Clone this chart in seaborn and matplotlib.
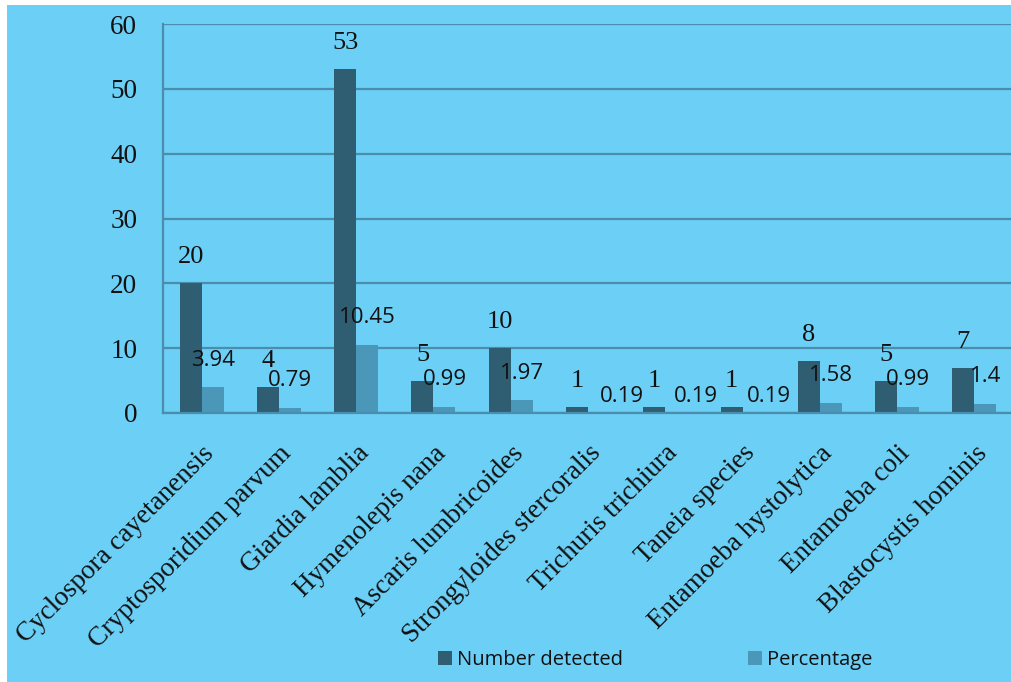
import matplotlib
matplotlib.use("Agg")
import matplotlib.pyplot as plt
import seaborn as sns
import pandas as pd
from matplotlib.patches import Rectangle

parasites = [
    "Cyclospora cayetanensis", "Cryptosporidium parvum", "Giardia lamblia",
    "Hymenolepis nana", "Ascaris lumbricoides", "Strongyloides stercoralis",
    "Trichuris trichiura", "Taneia species", "Entamoeba hystolytica",
    "Entamoeba coli", "Blastocystis hominis",
]
number_detected = [20, 4, 53, 5, 10, 1, 1, 1, 8, 5, 7]
percentage = [3.94, 0.79, 10.45, 0.99, 1.97, 0.19, 0.19, 0.19, 1.58, 0.99, 1.4]
series_names = ["Number detected", "Percentage"]
y_ticks = [0, 10, 20, 30, 40, 50, 60]

BG = "#6BCFF6"
DARK = "#2F5D71"
LIGHT = "#4A97BA"
GRID = "#4B8DAD"

df = pd.DataFrame({
    "parasite": parasites * 2,
    "series": [series_names[0]] * len(parasites) + [series_names[1]] * len(parasites),
    "value": number_detected + percentage,
})

sns.set_style("white")
fig = plt.figure(figsize=(10.11, 6.82), dpi=100, facecolor="white")
fig.patches.append(Rectangle((7 / 1011, 0), 1, 1 - 5 / 682, transform=fig.transFigure,
                             facecolor=BG, edgecolor="none", zorder=-10))
ax = fig.add_axes([163 / 1011, 1 - 413 / 682, 850 / 1011, 389 / 682])
ax.set_facecolor(BG)

sns.barplot(data=df, x="parasite", y="value", hue="series", order=parasites,
            hue_order=series_names, palette=[DARK, LIGHT], width=0.57,
            saturation=1, ax=ax, legend=True, edgecolor="none", linewidth=0)

ax.set_ylim(0, 60)
ax.set_xlim(-0.5, len(parasites) - 0.5)
ax.set_yticks(y_ticks)
ax.yaxis.grid(True, color=GRID, linewidth=1.6)
ax.set_axisbelow(True)
for side in ["top", "right"]:
    ax.spines[side].set_visible(False)
for side in ["left", "bottom"]:
    ax.spines[side].set_color(GRID)
    ax.spines[side].set_linewidth(1.6)
ax.tick_params(axis="both", length=0)
ax.tick_params(axis="y", pad=18.5)
ax.set_xlabel("")
ax.set_ylabel("")

serif = "Liberation Serif"
sans = "Open Sans"
for lbl in ax.get_yticklabels():
    lbl.set_fontfamily(serif)
    lbl.set_fontsize(19.5)
    lbl.set_color("#111111")
ax.set_xticks(range(len(parasites)))
ax.set_xticklabels(parasites, rotation=45, ha="right", rotation_mode="anchor",
                   fontfamily=serif, fontsize=19.5, color="#111111")
ax.tick_params(axis="x", pad=20)

# label offsets in pixels (dx, dy); small percentage labels are nudged aside
count_dy = 26
pct_dx = [0, 0, 0, 0, 0, 23, 20, 15, 0, 0, 0]
pct_dy = [27, 27, 28, 27, 27, 15, 15, 15, 27, 27, 27]
px = 72 / 100

for i, (bar, v) in enumerate(zip(ax.containers[0], number_detected)):
    ax.annotate(f"{v:g}", (bar.get_x() + bar.get_width() / 2, bar.get_height()),
                xytext=(0, count_dy * px), textcoords="offset points", ha="center",
                va="center", fontfamily=serif, fontsize=19, color="#111111")
for i, (bar, v) in enumerate(zip(ax.containers[1], percentage)):
    ax.annotate(f"{v:g}", (bar.get_x() + bar.get_width() / 2, bar.get_height()),
                xytext=(pct_dx[i] * px, pct_dy[i] * px), textcoords="offset points",
                ha="center", va="center", fontfamily=sans, fontsize=16, color="#111111")

leg = ax.legend(loc="center", bbox_to_anchor=((655 - 163) / 850, -0.634), ncol=2,
                frameon=False, prop={"family": sans, "size": 14.5},
                handlelength=0.7, handleheight=0.7, handletextpad=0.25,
                columnspacing=6.2)
for t in leg.get_texts():
    t.set_color("#111111")

fig.savefig("out.png", dpi=100, facecolor=fig.get_facecolor())
